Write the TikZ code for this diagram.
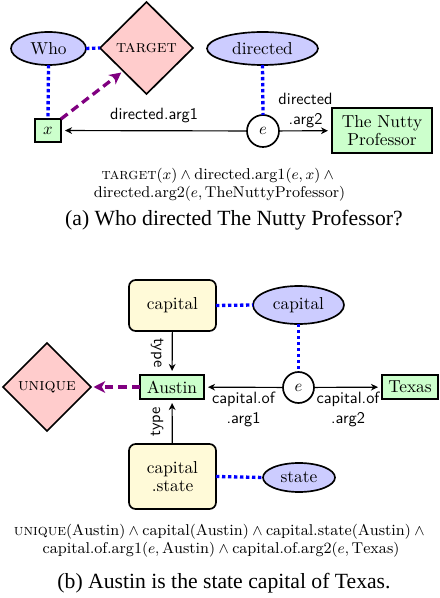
\documentclass[tikz,border=0pt]{standalone}
\usepackage{fontspec}
\newfontfamily\capfont{Liberation Serif}
\usetikzlibrary{shapes.geometric,arrows.meta}

\definecolor{termblue}{RGB}{204,204,255}
\definecolor{oppink}{RGB}{255,204,204}
\definecolor{entgreen}{RGB}{204,255,204}
\definecolor{typeyellow}{RGB}{255,250,216}
\definecolor{linkpurple}{RGB}{128,0,128}

\tikzset{
  every node/.style={inner sep=0pt, outer sep=0pt},
  nodefont/.style={font=\fontsize{10.4}{11}\selectfont},
  lblfont/.style={font=\sffamily\fontsize{9.8}{11}\selectfont},
  term/.style={ellipse, draw, line width=1pt, fill=termblue, nodefont},
  operator/.style={diamond, draw, line width=1pt, fill=oppink, nodefont},
  entity/.style={rectangle, draw, line width=1pt, fill=entgreen, nodefont, align=center},
  typebox/.style={rectangle, rounded corners=4pt, draw, line width=1pt, fill=typeyellow, nodefont, align=center},
  event/.style={circle, draw, line width=1pt, fill=white, nodefont},
  anchorlink/.style={draw=blue, line width=2pt, dash pattern=on 2pt off 1.6pt},
  oplink/.style={draw=linkpurple, line width=2pt, dash pattern=on 5pt off 3pt,
    -{Stealth[length=7pt,width=7pt,inset=2pt]}, shorten >=1.5pt},
  rel/.style={draw, line width=0.7pt, -{Stealth[length=4.2pt,width=4pt,inset=1.3pt]}, shorten >=2.4pt},
  edgelbl/.style={lblfont, align=center, inner sep=3pt},
  formula/.style={font=\fontsize{9.4}{11}\selectfont, align=center},
  caption/.style={font=\capfont\fontsize{13}{15}\selectfont}
}

\begin{document}
\begin{tikzpicture}[x=0.6pt, y=-0.6pt]
  \useasboundingbox (0,0) rectangle (439,598);

  % ---------- (a) ----------
  \node[term, minimum width=45pt, minimum height=19.8pt] (who) at (48.5,48.5) {Who};
  \node[operator, minimum width=55.8pt, minimum height=55.2pt] (target) at (146.5,48) {\textsc{target}};
  \node[term, minimum width=66.6pt, minimum height=19.8pt] (directed) at (262.5,48.5) {directed};
  \node[entity, minimum width=15.6pt, minimum height=13.8pt] (x) at (48,130.5) {$x$};
  \node[event, minimum size=19.2pt] (e1) at (263,131) {$e$};
  \node[entity, minimum width=60pt, minimum height=27pt] (nutty) at (382,130.5) {The Nutty\\Professor};

  \draw[anchorlink] (who.east) -- (target.west);
  \draw[anchorlink] (who.south) -- (x.north);
  \draw[anchorlink] (directed.south) -- (e1.north);
  \draw[rel] (e1) -- node[edgelbl, above, yshift=2pt] {directed.arg1} (x);
  \draw[rel] (e1) -- node[edgelbl, above, inner sep=2pt] {directed\\[1pt].arg2} (nutty);
  \draw[oplink] (x.north east) -- (target.south west);

  \node[formula] (fa) at (219.5,184.5)
    {$\textsc{target}(x) \wedge \mathrm{directed.arg1}(e,x) \wedge{}$\\
     $\mathrm{directed.arg2}(e,\mathrm{TheNuttyProfessor})$};
  \node[caption] (capa) at (234,220) {(a) Who directed The Nutty Professor?};

  % ---------- (b) ----------
  \node[typebox, minimum width=52.2pt, minimum height=30.6pt] (capbox) at (172.5,305.5) {capital};
  \node[term, minimum width=54.6pt, minimum height=22.8pt] (capterm) at (298.5,305) {capital};
  \node[entity, minimum width=38.4pt, minimum height=14.4pt] (austin) at (172,387) {Austin};
  \node[operator, minimum width=52.8pt, minimum height=52.8pt] (unique) at (47,387) {\textsc{unique}};
  \node[event, minimum size=18.6pt] (e2) at (298.5,387.5) {$e$};
  \node[entity, minimum width=33.6pt, minimum height=14.4pt] (texas) at (410,387) {Texas};
  \node[typebox, minimum width=52.2pt, minimum height=39pt] (statebox) at (172.5,476.5) {capital\\.state};
  \node[term, minimum width=43.2pt, minimum height=17.4pt] (stateterm) at (299,477.5) {state};

  \draw[anchorlink] (capbox.east) -- (capterm.west);
  \draw[anchorlink] (capterm.south) -- (e2.north);
  \draw[anchorlink] (statebox.east) -- (stateterm.west);
  \draw[rel] (capbox) -- node[lblfont, xshift=-9pt, rotate=-90] {type} (austin);
  \draw[rel] (statebox) -- node[lblfont, xshift=-9pt, rotate=90] {type} (austin);
  \draw[rel] (e2) -- node[edgelbl, below] {capital.of\\[1pt].arg1} (austin);
  \draw[rel] (e2) -- node[edgelbl, below] {capital.of\\[1pt].arg2} (texas);
  \draw[oplink] (austin.west) -- (unique.east);

  \node[formula] (fb) at (221,541)
    {$\textsc{unique}(\mathrm{Austin}) \wedge \mathrm{capital}(\mathrm{Austin}) \wedge \mathrm{capital.state}(\mathrm{Austin}) \wedge{}$\\
     $\mathrm{capital.of.arg1}(e,\mathrm{Austin}) \wedge \mathrm{capital.of.arg2}(e,\mathrm{Texas})$};
  \node[caption] (capb) at (224,583) {(b) Austin is the state capital of Texas.};
\end{tikzpicture}
\end{document}
